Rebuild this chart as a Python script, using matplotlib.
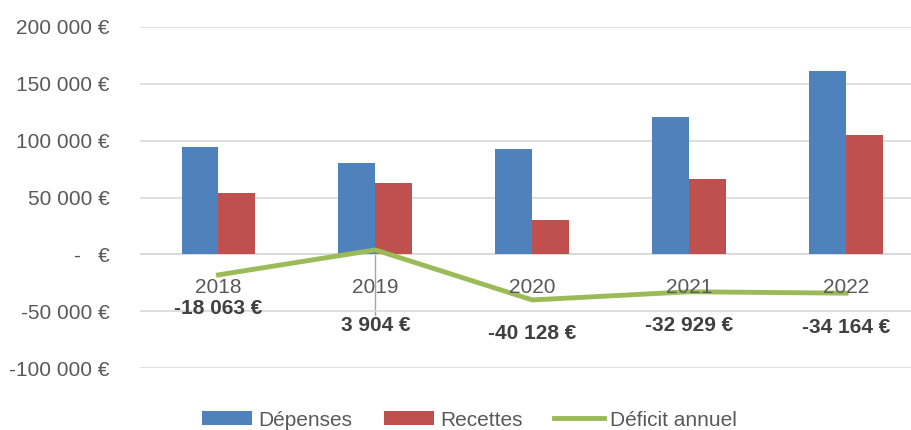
import matplotlib
matplotlib.use("Agg")
import matplotlib.pyplot as plt
import numpy as np

# ---------------------------------------------------------------------
# DATA
# ---------------------------------------------------------------------
annees   = ["2018", "2019", "2020", "2021", "2022"]
depenses = [94500, 80200, 92500, 121000, 161500]
recettes = [53700, 62500, 30600, 66100, 104800]
deficit  = [-18063, 3904, -40128, -32929, -34164]

# ---------------------------------------------------------------------
# STYLE
# ---------------------------------------------------------------------
BLUE  = "#4F81BD"
RED   = "#C0504D"
GREEN = "#9BBB59"
GRID  = "#D9D9D9"
TXT   = "#595959"
LBL   = "#404040"
FS    = 15
plt.rcParams["font.family"] = ["Liberation Sans", "DejaVu Sans"]

def euro(v, pos=None):
    if v == 0:
        return "-   €"
    return f"{v:,.0f} €".replace(",", " ")

fig = plt.figure(figsize=(9.12, 4.30), dpi=100)
ax = fig.add_axes([140/912, 1 - 368/430, 772/912, 341/430])

x = np.arange(len(annees))
w = 0.235
b1 = ax.bar(x - w/2, depenses, w, color=BLUE, label="Dépenses", zorder=2)
b2 = ax.bar(x + w/2, recettes, w, color=RED, label="Recettes", zorder=2)
ln, = ax.plot(x, deficit, color=GREEN, lw=3.5, label="Déficit annuel", zorder=3)

ax.set_ylim(-100000, 200000)
ax.set_xlim(-0.5, 4.42)
ax.set_yticks(np.arange(-100000, 200001, 50000))
ax.yaxis.set_major_formatter(plt.FuncFormatter(euro))
ax.grid(axis="y", color=GRID, lw=1.2, zorder=0)
ax.axhline(0, color=GRID, lw=1.2, zorder=1)
ax.set_xticks([])
for s in ax.spines.values():
    s.set_visible(False)
ax.tick_params(axis="y", length=0, pad=22, labelsize=FS, labelcolor=TXT)

# category labels next to the zero axis
for i, a in enumerate(annees):
    ax.annotate(a, (i, 0), xytext=(0, -33), textcoords="offset pixels",
                ha="center", va="center", fontsize=FS, color=TXT, zorder=4)

# data labels for the deficit line (2019 label pulled down with a leader line)
for i, v in enumerate(deficit):
    off = -34
    if annees[i] == "2019":
        off = -76
        ax.plot([i, i], [v, v - 57000], color="#A6A6A6", lw=1, zorder=1)
    ax.annotate(euro(v), (i, v), xytext=(0, off), textcoords="offset pixels",
                ha="center", va="center", fontsize=FS, fontweight="bold",
                color=LBL, zorder=4)

fig.legend([b1, b2, ln], ["Dépenses", "Recettes", "Déficit annuel"],
           loc="center left", bbox_to_anchor=(202/912, 1 - 420/430), ncol=3,
           frameon=False, fontsize=FS, labelcolor=TXT, handlelength=2.4,
           handleheight=0.65, columnspacing=1.5, handletextpad=0.3,
           borderpad=0, borderaxespad=0)

fig.savefig("out.png", dpi=100)
